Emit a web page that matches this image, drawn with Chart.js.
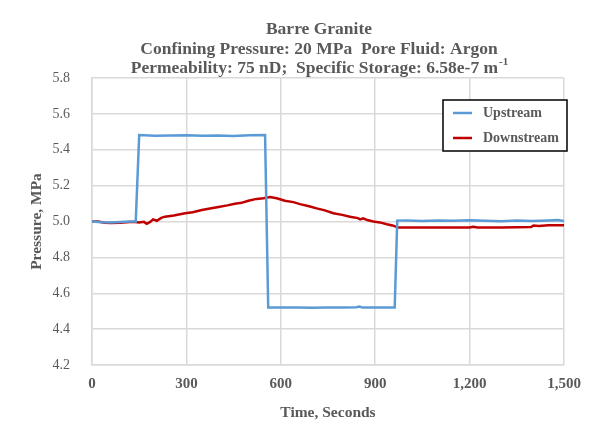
<!DOCTYPE html>
<html>
<head>
<meta charset="utf-8">
<script src="https://cdn.jsdelivr.net/npm/chart.js@4.4.1/dist/chart.umd.min.js"></script>
<style>
  html, body { margin: 0; padding: 0; background: #fff; }
  #wrap { width: 595px; height: 432px; }
</style>
</head>
<body>
<div id="wrap"><canvas id="chart" width="595" height="432"></canvas></div>
<script>
// Data
const titleLines = ['Barre Granite', 'Confining Pressure: 20 MPa  Pore Fluid: Argon', 'Permeability: 75 nD;  Specific Storage: 6.58e-7 m'];
const xTicks = [0, 300, 600, 900, 1200, 1500];
const yTicks = [4.2, 4.4, 4.6, 4.8, 5.0, 5.2, 5.4, 5.6, 5.8];

const upTime = [0, 30, 60, 90, 120, 139, 150, 200, 250, 300, 350, 400, 450, 500, 550, 560, 600, 650, 700, 750, 800, 840, 850, 860, 900, 962, 970, 1000, 1050, 1100, 1150, 1200, 1250, 1300, 1350, 1400, 1450, 1480, 1500];
const upPressure = [5.0, 4.996, 4.995, 4.997, 5.0, 5.0, 5.482, 5.478, 5.48, 5.481, 5.478, 5.48, 5.477, 5.481, 5.482, 4.52, 4.52, 4.521, 4.519, 4.521, 4.52, 4.522, 4.526, 4.52, 4.52, 4.521, 5.005, 5.006, 5.003, 5.006, 5.004, 5.007, 5.004, 5.002, 5.005, 5.003, 5.006, 5.008, 5.002];

const downTime = [0, 20, 40, 60, 90, 120, 137, 150, 165, 174, 185, 194, 206, 220, 232, 260, 296, 320, 349, 375, 402, 430, 454, 475, 497, 523, 545, 566, 587, 613, 640, 661, 690, 714, 740, 767, 795, 820, 845, 852, 862, 875, 894, 915, 937, 955, 972, 1000, 1050, 1100, 1150, 1200, 1211, 1225, 1250, 1300, 1350, 1395, 1403, 1420, 1450, 1500];
const downPressure = [5.0, 5.0, 4.993, 4.992, 4.993, 4.997, 4.997, 4.995, 4.998, 4.987, 4.998, 5.012, 5.004, 5.02, 5.027, 5.034, 5.046, 5.052, 5.064, 5.072, 5.081, 5.09, 5.099, 5.104, 5.116, 5.126, 5.13, 5.137, 5.13, 5.116, 5.108, 5.097, 5.085, 5.073, 5.062, 5.046, 5.037, 5.027, 5.019, 5.012, 5.018, 5.008, 5.0, 4.995, 4.985, 4.978, 4.967, 4.967, 4.967, 4.967, 4.967, 4.967, 4.971, 4.966, 4.966, 4.967, 4.968, 4.969, 4.977, 4.975, 4.979, 4.979];

const serif = '"Liberation Serif", "Times New Roman", serif';
const grey = '#595959';

function toPoints(xs, ys) {
  return xs.map((x, i) => ({ x: x, y: ys[i] }));
}

// title with superscript, and boxed legend inside the plot
const decorPlugin = {
  id: 'decor',
  afterDraw(chart) {
    const ctx = chart.ctx;
    const area = chart.chartArea;
    ctx.save();
    ctx.fillStyle = grey;
    ctx.textBaseline = 'middle';
    ctx.font = 'bold 17.5px ' + serif;
    const cx = 319;
    const ys = [29, 49, 68];
    ctx.textAlign = 'center';
    ctx.fillText(titleLines[0], cx, ys[0]);
    ctx.fillText(titleLines[1], cx, ys[1]);
    // last line has a superscript -1
    const w1 = ctx.measureText(titleLines[2]).width;
    ctx.font = 'bold 11px ' + serif;
    const w2 = ctx.measureText('-1').width;
    const start = cx - (w1 + w2) / 2;
    ctx.textAlign = 'left';
    ctx.font = 'bold 17.5px ' + serif;
    ctx.fillText(titleLines[2], start, ys[2]);
    ctx.font = 'bold 11px ' + serif;
    ctx.fillText('-1', start + w1 + 1, ys[2] - 6);

    // legend
    const bx = area.right - 121, by = area.top + 22, bw = 124, bh = 51;
    ctx.fillStyle = '#fff';
    ctx.fillRect(bx, by, bw, bh);
    ctx.strokeStyle = '#000';
    ctx.lineWidth = 1.5;
    ctx.strokeRect(bx, by, bw, bh);
    ctx.font = 'bold 14px ' + serif;
    chart.data.datasets.forEach((ds, i) => {
      const y = by + 13 + i * 25;
      ctx.strokeStyle = ds.borderColor;
      ctx.lineWidth = 2.5;
      ctx.beginPath();
      ctx.moveTo(bx + 10, y);
      ctx.lineTo(bx + 29, y);
      ctx.stroke();
      ctx.fillStyle = grey;
      ctx.fillText(ds.label, bx + 40, y);
    });
    ctx.restore();
  }
};

new Chart(document.getElementById('chart').getContext('2d'), {
  type: 'line',
  data: {
    datasets: [{
      label: 'Upstream',
      data: toPoints(upTime, upPressure),
      borderColor: '#5b9bd5',
      borderWidth: 2.5,
      pointRadius: 0,
      tension: 0,
      fill: false
    }, {
      label: 'Downstream',
      data: toPoints(downTime, downPressure),
      borderColor: '#c00000',
      borderWidth: 2.5,
      pointRadius: 0,
      tension: 0,
      fill: false
    }]
  },
  options: {
    responsive: false,
    animation: false,
    layout: { padding: { top: 78, left: 24, right: 31, bottom: 6 } },
    plugins: {
      legend: { display: false },
      title: { display: false },
      tooltip: { enabled: false }
    },
    scales: {
      x: {
        type: 'linear',
        min: 0,
        max: 1500,
        afterBuildTicks: axis => { axis.ticks = xTicks.map(v => ({ value: v })); },
        afterFit: axis => { axis.height = 61; axis.paddingLeft = 0; axis.paddingRight = 0; },
        grid: { color: '#d9d9d9', lineWidth: 1.5, drawTicks: false },
        border: { color: '#d9d9d9', width: 1.5 },
        ticks: {
          color: grey,
          padding: 10,
          font: { family: serif, size: 15, weight: 'bold' },
          maxRotation: 0,
          callback: v => v.toLocaleString('en-US')
        },
        title: {
          display: true,
          text: 'Time, Seconds',
          color: grey,
          padding: { top: 2 },
          font: { family: serif, size: 15.5, weight: 'bold' }
        }
      },
      y: {
        min: 4.2,
        max: 5.8,
        afterBuildTicks: axis => { axis.ticks = yTicks.map(v => ({ value: v })); },
        afterFit: axis => { axis.width = 68; },
        grid: { color: '#d9d9d9', lineWidth: 1.5, drawTicks: false },
        border: { color: '#d9d9d9', width: 1.5 },
        ticks: {
          color: grey,
          padding: 22,
          font: { family: serif, size: 14 },
          callback: v => v.toFixed(1)
        },
        title: {
          display: true,
          text: 'Pressure, MPa',
          color: grey,
          padding: { bottom: 4 },
          font: { family: serif, size: 15.5, weight: 'bold' }
        }
      }
    }
  },
  plugins: [decorPlugin]
});
</script>
</body>
</html>
